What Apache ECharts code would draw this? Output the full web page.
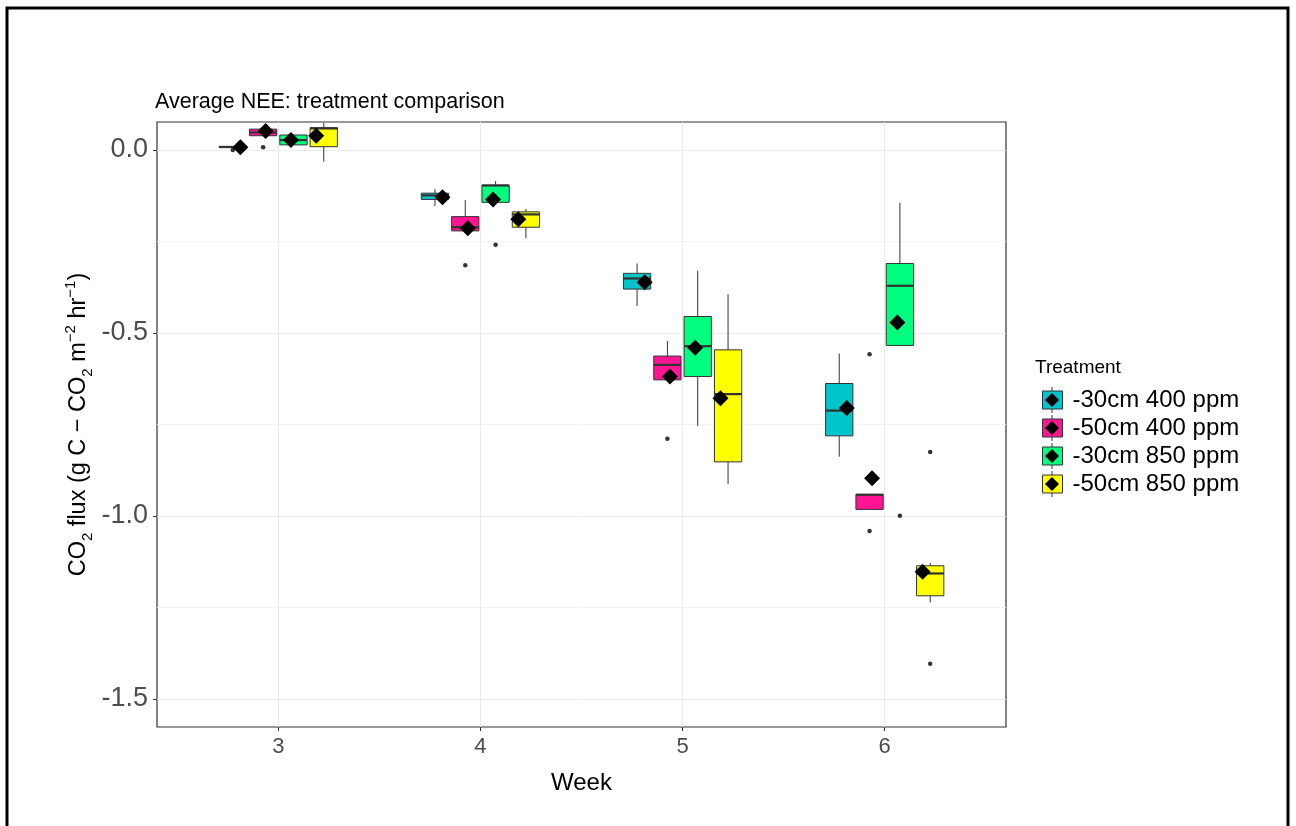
<!DOCTYPE html>
<html>
<head>
<meta charset="utf-8">
<title>Average NEE: treatment comparison</title>
<script src="https://cdn.jsdelivr.net/npm/echarts@6/dist/echarts.min.js"></script>
<style>
  html, body { margin: 0; padding: 0; background: #fff; }
  #chart { width: 1296px; height: 826px; }
</style>
</head>
<body>
<div id="chart"></div>
<script>
const weeks = [3, 4, 5, 6];
const treatments = ['-30cm 400 ppm', '-50cm 400 ppm', '-30cm 850 ppm', '-50cm 850 ppm'];

// box stats per week: [lower whisker, q1, median, q3, upper whisker]
const box30cm400 = [
  [0.006, 0.007, 0.008, 0.010, 0.011],
  [-0.153, -0.135, -0.124, -0.118, -0.107],
  [-0.426, -0.380, -0.351, -0.337, -0.310],
  [-0.838, -0.781, -0.712, -0.638, -0.556]
];
const box50cm400 = [
  [0.039, 0.039, 0.048, 0.057, 0.057],
  [-0.221, -0.221, -0.211, -0.182, -0.137],
  [-0.628, -0.628, -0.587, -0.563, -0.522],
  [-0.982, -0.982, -0.942, -0.941, -0.941]
];
const box30cm850 = [
  [0.014, 0.014, 0.027, 0.041, 0.041],
  [-0.143, -0.143, -0.097, -0.096, -0.085],
  [-0.754, -0.619, -0.536, -0.455, -0.330],
  [-0.534, -0.534, -0.371, -0.310, -0.144]
];
const box50cm850 = [
  [-0.032, 0.009, 0.059, 0.061, 0.074],
  [-0.241, -0.211, -0.176, -0.169, -0.161],
  [-0.913, -0.852, -0.667, -0.546, -0.394],
  [-1.236, -1.218, -1.157, -1.136, -1.128]
];

// outliers: [week, value]
const out30cm400 = [[3, 0.000]];
const out50cm400 = [[3, 0.0075], [4, -0.315], [5, -0.789], [6, -0.558], [6, -1.041]];
const out30cm850 = [[4, -0.259], [6, -0.999]];
const out50cm850 = [[6, -0.825], [6, -1.404]];

// treatment means per week
const mean30cm400 = [0.0075, -0.129, -0.361, -0.705];
const mean50cm400 = [0.052, -0.214, -0.619, -0.897];
const mean30cm850 = [0.027, -0.135, -0.540, -0.471];
const mean50cm850 = [0.039, -0.189, -0.678, -1.152];

const yTicks = [0, -0.5, -1.0, -1.5];
const yMinorTicks = [-0.25, -0.75, -1.25];

const boxes = [box30cm400, box50cm400, box30cm850, box50cm850];
const outliers = [out30cm400, out50cm400, out30cm850, out50cm850];
const means = [mean30cm400, mean50cm400, mean30cm850, mean50cm850];

const fills = ['#00C5CD', '#FF1493', '#00FF7F', '#FFFF00'];
const boxDodge = [-0.225, -0.075, 0.075, 0.225];
const meanDodge = [-0.1875, -0.0625, 0.0625, 0.1875];
const BOX_W = 0.135;
const INK = '#333333';
const FONT = 'Liberation Sans, Arial, sans-serif';

function boxRenderer(fill, dodge) {
  return function (params, api) {
    const x = api.value(0) + dodge;
    const left = api.coord([x - BOX_W / 2, 0])[0];
    const right = api.coord([x + BOX_W / 2, 0])[0];
    const cx = api.coord([x, 0])[0];
    const yLo = api.coord([x, api.value(1)])[1];
    const yQ1 = api.coord([x, api.value(2)])[1];
    const yMed = api.coord([x, api.value(3)])[1];
    const yQ3 = api.coord([x, api.value(4)])[1];
    const yHi = api.coord([x, api.value(5)])[1];
    const line = { stroke: INK, lineWidth: 1 };
    return {
      type: 'group',
      children: [
        { type: 'line', shape: { x1: cx, y1: yHi, x2: cx, y2: yQ3 }, style: line },
        { type: 'line', shape: { x1: cx, y1: yQ1, x2: cx, y2: yLo }, style: line },
        {
          type: 'rect',
          shape: { x: left, y: yQ3, width: right - left, height: Math.max(yQ1 - yQ3, 1) },
          style: { fill: fill, stroke: INK, lineWidth: 1 }
        },
        { type: 'line', shape: { x1: left, y1: yMed, x2: right, y2: yMed }, style: { stroke: INK, lineWidth: 2.2 } }
      ]
    };
  };
}

const series = [];
treatments.forEach((name, t) => {
  series.push({
    name: name,
    type: 'custom',
    z: 2,
    itemStyle: { color: fills[t] },
    renderItem: boxRenderer(fills[t], boxDodge[t]),
    encode: { x: 0, y: [1, 2, 3, 4, 5] },
    data: weeks.map((w, i) => [w].concat(boxes[t][i]))
  });
});
treatments.forEach((name, t) => {
  series.push({
    name: name,
    type: 'scatter',
    z: 3,
    symbol: 'circle',
    symbolSize: 4.5,
    itemStyle: { color: INK, opacity: 1 },
    data: outliers[t].map(([w, v]) => [w + boxDodge[t], v])
  });
});
treatments.forEach((name, t) => {
  series.push({
    name: name,
    type: 'scatter',
    z: 4,
    symbol: 'diamond',
    symbolSize: 16,
    itemStyle: { color: '#000', opacity: 1 },
    data: weeks.map((w, i) => [w + meanDodge[t], means[t][i]])
  });
});

const legendBase = {
  orient: 'vertical',
  top: 381,
  itemGap: 0,
  selectedMode: false,
  data: treatments,
  textStyle: { fontSize: 24, lineHeight: 28, color: '#000', fontFamily: FONT }
};

const option = {
  backgroundColor: '#fff',
  animation: false,
  textStyle: { fontFamily: FONT },
  title: [
    {
      text: 'Average NEE: treatment comparison',
      left: 150,
      top: 86,
      textStyle: { fontSize: 21.5, fontWeight: 'normal', color: '#000' }
    },
    {
      text: 'Treatment',
      left: 1030,
      top: 353,
      textStyle: { fontSize: 19, fontWeight: 'normal', color: '#000' }
    }
  ],
  legend: [
    Object.assign({}, legendBase, {
      left: 1046.5,
      icon: 'rect',
      itemWidth: 1,
      itemHeight: 26,
      itemStyle: { color: INK, borderWidth: 0 },
      textStyle: Object.assign({}, legendBase.textStyle, { color: 'rgba(0,0,0,0)' })
    }),
    Object.assign({}, legendBase, {
      left: 1037,
      icon: 'rect',
      itemWidth: 20,
      itemHeight: 18,
      itemStyle: { borderColor: INK, borderWidth: 1 },
      textStyle: Object.assign({}, legendBase.textStyle, { padding: [0, 0, 0, 5] })
    }),
    Object.assign({}, legendBase, {
      left: 1040,
      icon: 'diamond',
      itemWidth: 14,
      itemHeight: 14,
      itemStyle: { color: '#000', borderWidth: 0 },
      textStyle: Object.assign({}, legendBase.textStyle, { color: 'rgba(0,0,0,0)' })
    })
  ],
  grid: {
    left: 157,
    top: 122,
    width: 849,
    height: 605,
    show: true,
    borderColor: INK,
    borderWidth: 1.2
  },
  xAxis: {
    type: 'value',
    min: 2.4,
    max: 6.6,
    axisLine: { show: false, onZero: false },
    axisTick: { show: true, customValues: weeks, length: 4, lineStyle: { color: INK } },
    axisLabel: { customValues: weeks, fontSize: 22, color: '#4D4D4D', margin: 9 },
    splitLine: { show: true, lineStyle: { color: '#EBEBEB', width: 1 } },
    name: 'Week',
    nameLocation: 'middle',
    nameGap: 44,
    nameMoveOverlap: false,
    nameTextStyle: { fontSize: 24, color: '#000' }
  },
  yAxis: [
    {
      type: 'value',
      min: -1.5765,
      max: 0.0765,
      axisLine: { show: false, onZero: false },
      axisTick: { show: true, customValues: yTicks, length: 4, lineStyle: { color: INK } },
      axisLabel: {
        customValues: yTicks,
        fontSize: 27,
        color: '#4D4D4D',
        margin: 9,
        formatter: v => v.toFixed(1)
      },
      splitLine: { show: true, lineStyle: { color: '#EBEBEB', width: 1 } },
      name: '{n|CO}{s|2}{n| flux (g C − CO}{s|2}{n| m}{p|−2}{n| hr}{p|−1}{n|)}',
      nameLocation: 'middle',
      nameRotate: 90,
      nameGap: 62,
      nameMoveOverlap: false,
      nameTextStyle: {
        rich: {
          n: { fontSize: 23.5, color: '#000', lineHeight: 32, verticalAlign: 'middle' },
          s: { fontSize: 15, color: '#000', lineHeight: 14, verticalAlign: 'bottom' },
          p: { fontSize: 15, color: '#000', lineHeight: 14, verticalAlign: 'top' }
        }
      }
    },
    {
      type: 'value',
      min: -1.5765,
      max: 0.0765,
      position: 'left',
      axisLine: { show: false, onZero: false },
      axisTick: { show: false, customValues: yMinorTicks },
      axisLabel: { show: false, customValues: yMinorTicks },
      splitLine: { show: true, lineStyle: { color: '#F2F2F2', width: 1 } }
    }
  ],
  graphic: [
    {
      type: 'rect',
      silent: true,
      shape: { x: 7, y: 8, width: 1281, height: 900 },
      style: { fill: 'none', stroke: '#000', lineWidth: 3 }
    }
  ],
  series: series
};

const chart = echarts.init(document.getElementById('chart'));
chart.setOption(option);
</script>
</body>
</html>
